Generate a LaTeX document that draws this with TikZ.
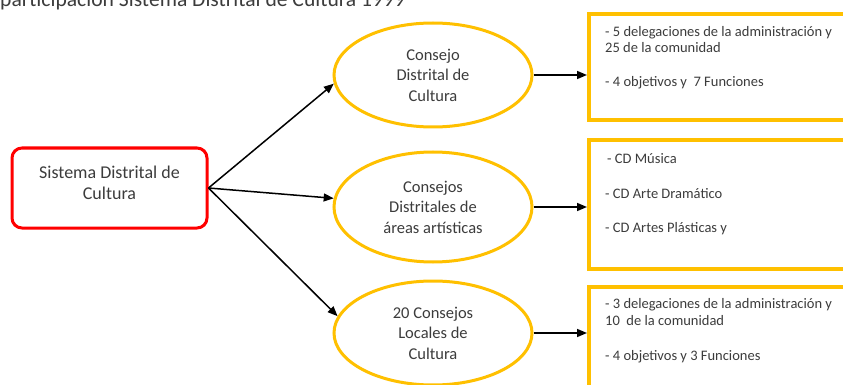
\documentclass[tikz,border=0pt]{standalone}
\usepackage{fontspec}
\setmainfont{Carlito}
\usetikzlibrary{shapes.geometric,arrows.meta,calc}
\definecolor{gold}{HTML}{FFC000}
\definecolor{redline}{HTML}{FF0000}
\definecolor{txt}{HTML}{3C3C3C}
\tikzset{
  ellnode/.style={ellipse, draw=gold, line width=3pt, fill=white, minimum width=198pt, minimum height=104pt, align=center, text=txt, font=\fontsize{16.5}{20.5}\selectfont},
  redbox/.style={rectangle, rounded corners=10pt, draw=redline, line width=3pt, fill=white, minimum width=195pt, minimum height=80pt},
  redtxt/.style={align=center, inner sep=0pt, text=txt, font=\fontsize{18}{21.5}\selectfont},
  infobox/.style={rectangle, draw=gold, line width=4pt, fill=white, anchor=north west, minimum width=290pt},
  boxtxt/.style={anchor=base west, inner sep=0pt, text=txt, font=\fontsize{14.5}{16}\selectfont},
  arr/.style={-{Triangle[length=10pt,width=8pt]}, line width=1.5pt, black},
}
\begin{document}
\begin{tikzpicture}[x=1pt,y=-1pt]
\useasboundingbox (0,0) rectangle (843,385);
\clip (0,0) rectangle (843,385);
\node[anchor=base west, inner sep=0pt, text=txt, font=\fontsize{21.6}{24}\selectfont] (title) at (0,7) {participación Sistema Distrital de Cultura 1999};

\node[redbox] (r) at (109.5,188) {};
\node[redtxt] (rt) at (109.5,183) {Sistema Distrital de\\Cultura};

\node[ellnode] (e1) at (433,75) {Consejo\\Distrital de\\Cultura};
\node[ellnode, minimum height=110pt] (e2) at (433,207) {Consejos\\Distritales de\\áreas artísticas};
\node[ellnode] (e3) at (433,333) {20 Consejos\\Locales de\\Cultura};

\node[infobox, minimum height=106pt] (b1) at (587,12) {};
\node[infobox, minimum height=129pt] (b2) at (587,138) {};
\node[infobox, minimum height=120pt] (b3) at (587,285) {};

\node[boxtxt] (b1a) at (605,37) {- 5 delegaciones de la administración y};
\node[boxtxt] (b1b) at (605,53) {25 de la comunidad};
\node[boxtxt] (b1c) at (605,87) {- 4 objetivos y\ \ 7 Funciones};

\node[boxtxt] (b2a) at (607,163) {- CD Música};
\node[boxtxt] (b2b) at (605,198) {- CD Arte Dramático};
\node[boxtxt] (b2c) at (605,232) {- CD Artes Plásticas y};

\node[boxtxt] (b3a) at (605,308) {- 3 delegaciones de la administración y};
\node[boxtxt] (b3b) at (605,325) {10\ \ de la comunidad};
\node[boxtxt] (b3c) at (605,360) {- 4 objetivos y 3 Funciones};

\draw[arr] (r.east) -- (e1.185);
\draw[arr] (r.east) -- (e2.175);
\draw[arr] (r.east) -- (e3.170);

\draw[arr] (e1.east) -- (b1.west |- e1.east);
\draw[arr] (e2.east) -- (b2.west |- e2.east);
\draw[arr] (e3.east) -- (b3.west |- e3.east);
\end{tikzpicture}
\end{document}
